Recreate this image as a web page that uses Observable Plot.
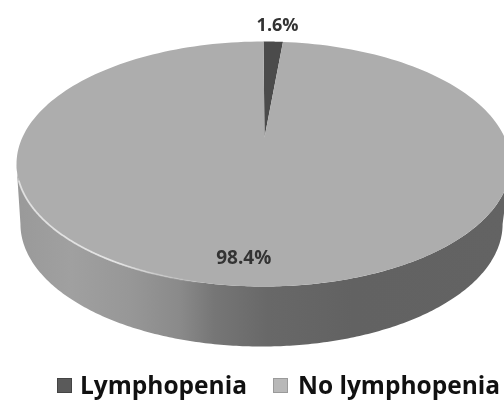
<!DOCTYPE html>
<html><head><meta charset="utf-8">
<script src="https://cdn.jsdelivr.net/npm/d3@7"></script>
<script src="https://cdn.jsdelivr.net/npm/@observablehq/plot@0.6"></script>
<style>
html,body{margin:0;padding:0;background:#fff;width:504px;height:401px;overflow:hidden}
#chart svg{display:block;filter:blur(.5px)}
#legend{position:absolute;left:0;top:368px;width:504px;height:33px;font:700 24.5px "Open Sans",sans-serif;color:#111;filter:blur(.4px)}
#legend span{position:absolute;top:0;line-height:33px;white-space:nowrap}
#legend i{position:absolute;top:10px;width:15px;height:15px;box-sizing:border-box;border:1.5px solid}
</style></head><body>
<div id="chart"></div><div id="legend"></div>
<script>
const categories = ["Lymphopenia", "No lymphopenia"];
const percents = [1.6, 98.4];
const percentLabels = ["1.6%", "98.4%"];
const sliceColors = ["#4b4b4b", "#adadad"];
const swatchColors = ["#5a5a5a", "#b8b8b8"];
const swatchBorders = ["#444444", "#9a9a9a"];

// The perspective moves the pie's apex above the ellipse's centre
const apexX = 0.004, apexY = 0.216, steps = 240;
const rad = d => d * Math.PI / 180;
const warp = t => t - apexY * Math.sin(t);
const ellipse = (t, a = 1, dy = 0, dx = 0) => ({x: a * Math.sin(t) + dx, y: Math.cos(t) + dy});
const arcPts = (t0, t1, a, dy, dx) => d3.range(steps + 1).map(i => ellipse(t0 + (t1 - t0) * i / steps, a, dy, dx));

// Slices from the values
let acc = 0;
const sliceRows = [];
percents.forEach((p, i) => {
  const t0 = warp(rad(acc * 3.6)), t1 = warp(rad((acc + p) * 3.6));
  acc += p;
  const apex = {x: apexX, y: apexY};
  [apex, ...arcPts(t0, t1, 1, 0, 0), apex].forEach(q => sliceRows.push({...q, category: categories[i]}));
});

// Side wall: front half of the rim and a slightly narrower copy lowered by the depth
const depth = -0.49, lowerWidth = 0.976, lowerShift = -0.008;
const side = [...arcPts(rad(90), rad(270), 1, 0, 0), ...arcPts(rad(270), rad(90), lowerWidth, depth, lowerShift)];
const highlight = arcPts(rad(195), rad(262), 1, 0, 0);

const labelRows = [
  {x: 0.057, y: 1.13, text: percentLabels[0], size: 18},
  {x: -0.08, y: -0.763, text: percentLabels[1], size: 19}
];

const plot = Plot.plot({
  width: 504, height: 368, margin: 0,
  x: {domain: [-1, 1], range: [16, 510], axis: null},
  y: {domain: [-1, 1], range: [286, 41], axis: null},
  color: {domain: categories, range: sliceColors},
  marks: [
    () => {
      const ns = "http://www.w3.org/2000/svg";
      const defs = document.createElementNS(ns, "defs");
      const mk = (id, stops) => {
        const g = document.createElementNS(ns, "linearGradient");
        g.setAttribute("id", id);
        stops.forEach(([o, c, a]) => {
          const s = document.createElementNS(ns, "stop");
          s.setAttribute("offset", o); s.setAttribute("stop-color", c);
          if (a != null) s.setAttribute("stop-opacity", a);
          g.appendChild(s);
        });
        defs.appendChild(g);
      };
      mk("wall", [[0.01, "#9a9a9a"], [0.11, "#a0a0a0"], [0.23, "#979797"], [0.33, "#8a8a8a"], [0.40, "#767676"], [0.51, "#686868"], [0.68, "#626262"], [1, "#636363"]]);
      mk("gleam", [[0, "#e4e4e4", 0.9], [0.55, "#e8e8e8", 0.9], [1, "#d0d0d0", 0.1]]);
      return defs;
    },
    Plot.line(side, {x: "x", y: "y", fill: "url(#wall)", stroke: "none", curve: "linear"}),
    Plot.line(sliceRows, {x: "x", y: "y", z: "category", fill: "category", stroke: "none", curve: "linear"}),
    Plot.line(highlight, {x: "x", y: "y", stroke: "url(#gleam)", strokeWidth: 1.8, curve: "linear"}),
    Plot.text(labelRows, {x: "x", y: "y", text: "text", fontSize: "size", fontWeight: 700, fill: "#333", fontFamily: "Open Sans"})
  ]
});
document.getElementById("chart").append(plot);

const legend = document.getElementById("legend");
[[57, 80], [273, 298]].forEach(([sx, tx], i) => {
  const sw = document.createElement("i");
  sw.style.left = sx + "px"; sw.style.background = swatchColors[i]; sw.style.borderColor = swatchBorders[i];
  const t = document.createElement("span");
  t.style.left = tx + "px"; t.textContent = categories[i];
  legend.append(sw, t);
});
</script>
</body></html>
